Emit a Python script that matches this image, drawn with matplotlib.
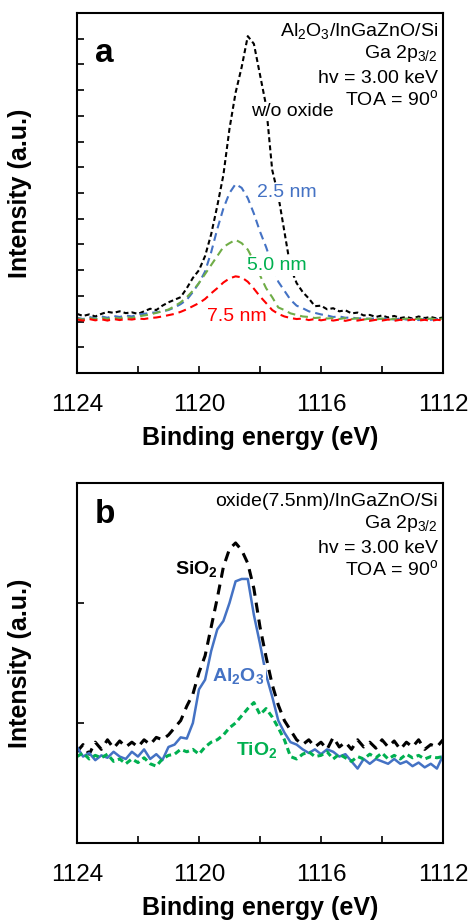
import numpy as np
import matplotlib
matplotlib.use('Agg')
import matplotlib.pyplot as plt
from matplotlib.ticker import MultipleLocator, FuncFormatter

plt.rcParams['font.family'] = ['Liberation Sans', 'DejaVu Sans']
plt.rcParams['mathtext.fontset'] = 'custom'
plt.rcParams['mathtext.rm'] = 'Liberation Sans'
plt.rcParams['mathtext.it'] = 'Liberation Sans:italic'
plt.rcParams['mathtext.bf'] = 'Liberation Sans:bold'

# binding energy grid (eV)
energy = [1124.0, 1123.8, 1123.6, 1123.4, 1123.2, 1123.0, 1122.8, 1122.6, 1122.4, 1122.2,
          1122.0, 1121.8, 1121.6, 1121.4, 1121.2, 1121.0, 1120.8, 1120.6, 1120.4, 1120.2,
          1120.0, 1119.8, 1119.6, 1119.4, 1119.2, 1119.0, 1118.8, 1118.6, 1118.4, 1118.2,
          1118.0, 1117.8, 1117.6, 1117.4, 1117.2, 1117.0, 1116.8, 1116.6, 1116.4, 1116.2,
          1116.0, 1115.8, 1115.6, 1115.4, 1115.2, 1115.0, 1114.8, 1114.6, 1114.4, 1114.2,
          1114.0, 1113.8, 1113.6, 1113.4, 1113.2, 1113.0, 1112.8, 1112.6, 1112.4, 1112.2,
          1112.0]

# panel a: Al2O3 thickness series
no_oxide = [2.30, 2.22, 2.28, 2.20, 2.30, 2.38, 2.34, 2.40, 2.33, 2.36,
            2.30, 2.40, 2.50, 2.45, 2.62, 2.75, 2.85, 2.95, 3.30, 3.70,
            4.00, 4.55, 5.40, 6.50, 7.70, 9.50, 10.9, 11.9, 13.1, 12.8,
            11.6, 10.4, 7.90, 6.90, 5.50, 4.10, 3.50, 3.15, 2.90, 2.60,
            2.62, 2.48, 2.52, 2.40, 2.44, 2.32, 2.35, 2.24, 2.26, 2.18,
            2.24, 2.16, 2.22, 2.14, 2.18, 2.12, 2.20, 2.14, 2.18, 2.12,
            2.16]
al_25 = [2.15, 2.10, 2.18, 2.12, 2.20, 2.15, 2.22, 2.18, 2.24, 2.20,
         2.28, 2.30, 2.34, 2.36, 2.40, 2.45, 2.55, 2.68, 2.85, 3.15,
         3.50, 3.95, 4.70, 5.60, 6.40, 7.00, 7.35, 7.20, 6.80, 6.20,
         5.50, 4.90, 4.20, 3.55, 3.20, 2.85, 2.62, 2.52, 2.40, 2.34,
         2.28, 2.24, 2.18, 2.20, 2.15, 2.16, 2.12, 2.14, 2.10, 2.13,
         2.10, 2.12, 2.08, 2.12, 2.08, 2.10, 2.06, 2.10, 2.07, 2.10,
         2.08]
al_50 = [2.12, 2.08, 2.14, 2.10, 2.16, 2.10, 2.15, 2.12, 2.18, 2.14,
         2.20, 2.24, 2.28, 2.34, 2.40, 2.47, 2.60, 2.75, 2.95, 3.20,
         3.50, 3.85, 4.20, 4.55, 4.90, 5.05, 5.18, 5.05, 4.80, 4.35,
         3.80, 3.30, 2.95, 2.55, 2.45, 2.32, 2.26, 2.20, 2.18, 2.14,
         2.16, 2.12, 2.14, 2.10, 2.14, 2.10, 2.13, 2.08, 2.12, 2.08,
         2.12, 2.07, 2.11, 2.08, 2.12, 2.08, 2.12, 2.08, 2.12, 2.09,
         2.12]
al_75 = [2.08, 2.04, 2.10, 2.05, 2.09, 2.04, 2.10, 2.06, 2.10, 2.08,
         2.12, 2.10, 2.14, 2.16, 2.20, 2.25, 2.30, 2.38, 2.48, 2.60,
         2.72, 2.88, 3.10, 3.30, 3.52, 3.68, 3.76, 3.72, 3.55, 3.28,
         2.98, 2.72, 2.45, 2.30, 2.20, 2.14, 2.10, 2.12, 2.06, 2.10,
         2.05, 2.09, 2.04, 2.08, 2.03, 2.08, 2.04, 2.08, 2.03, 2.07,
         2.04, 2.08, 2.03, 2.07, 2.04, 2.08, 2.04, 2.07, 2.03, 2.07,
         2.05]

# panel b: 7.5 nm of different oxides
sio2 = [0.76, 0.82, 0.74, 0.84, 0.78, 0.86, 0.79, 0.85, 0.80, 0.84,
        0.80, 0.86, 0.82, 0.88, 0.86, 0.90, 0.96, 1.02, 1.14, 1.24,
        1.42, 1.56, 1.80, 2.04, 2.30, 2.45, 2.50, 2.44, 2.33, 2.12,
        1.80, 1.55, 1.32, 1.15, 1.02, 0.94, 0.86, 0.82, 0.86, 0.80,
        0.84, 0.78, 0.88, 0.80, 0.84, 0.78, 0.86, 0.80, 0.84, 0.79,
        0.86, 0.80, 0.85, 0.78, 0.84, 0.80, 0.86, 0.78, 0.82, 0.80,
        0.86]
al2o3 = [0.80, 0.72, 0.75, 0.69, 0.73, 0.71, 0.76, 0.72, 0.70, 0.76,
         0.72, 0.78, 0.70, 0.74, 0.69, 0.80, 0.82, 0.88, 0.87, 1.00,
         1.28, 1.36, 1.60, 1.78, 1.85, 2.00, 2.18, 2.20, 2.20, 1.90,
         1.66, 1.40, 1.22, 1.02, 0.92, 0.84, 0.82, 0.78, 0.75, 0.78,
         0.74, 0.78, 0.76, 0.72, 0.74, 0.68, 0.62, 0.70, 0.66, 0.70,
         0.68, 0.66, 0.70, 0.66, 0.68, 0.64, 0.67, 0.63, 0.66, 0.62,
         0.73]
tio2 = [0.72, 0.75, 0.70, 0.73, 0.71, 0.74, 0.68, 0.70, 0.66, 0.70,
        0.67, 0.71, 0.66, 0.64, 0.70, 0.73, 0.74, 0.78, 0.76, 0.78,
        0.74, 0.80, 0.84, 0.86, 0.90, 0.96, 1.00, 1.06, 1.12, 1.17,
        1.07, 1.12, 1.05, 0.96, 0.86, 0.72, 0.70, 0.74, 0.76, 0.72,
        0.73, 0.76, 0.70, 0.74, 0.71, 0.68, 0.72, 0.70, 0.74, 0.71,
        0.75, 0.70, 0.73, 0.70, 0.74, 0.71, 0.73, 0.70, 0.72, 0.71,
        0.72]

x_ticks_labelled = [1124, 1120, 1116, 1112]

BLUE = '#4472C4'
OLIVE = '#70AD47'
GREEN = '#00B050'
RED = '#FF0000'
white_box = dict(facecolor='white', edgecolor='none', pad=1)


def styleAxes(ax, ymax):
    ax.set_xlim(1124, 1112)
    ax.set_ylim(0, ymax)
    ax.xaxis.set_major_locator(MultipleLocator(2))
    ax.xaxis.set_major_formatter(FuncFormatter(
        lambda v, p: '%d' % round(v) if round(v) in x_ticks_labelled else ''))
    ax.yaxis.set_major_locator(MultipleLocator(1))
    ax.yaxis.set_major_formatter(FuncFormatter(lambda v, p: ''))
    ax.tick_params(direction='in', length=5, width=1.2, labelsize=17.5, pad=15,
                   top=False, right=False)
    for s in ax.spines.values():
        s.set_linewidth(1.5)
    ax.set_xlabel('Binding energy (eV)', fontsize=18, fontweight='bold', labelpad=7)


def infoBlock(ax, first_line):
    lines = [first_line, 'Ga 2p$_{3/2}$', 'hv = 3.00 keV', 'TOA = 90$^{\\mathrm{o}}$']
    for txt, yy in zip(lines, [0.936, 0.876, 0.806, 0.745]):
        ax.text(0.986, yy, txt, transform=ax.transAxes, ha='right', va='baseline',
                fontsize=14)


fig = plt.figure(figsize=(4.74, 9.22), dpi=100)

# ---- panel a
axA = fig.add_axes([0.1624, 0.5954, 0.7722, 0.3905])
axA.plot(energy, no_oxide, color='black', lw=1.5, ls=(0, (2.4, 1.5)))
axA.plot(energy, al_25, color=BLUE, lw=1.5, ls=(0, (3.8, 2.4)))
axA.plot(energy, al_50, color=OLIVE, lw=1.5, ls=(0, (3.8, 2.4)))
axA.plot(energy, al_75, color=RED, lw=1.5, ls=(0, (3.8, 2.4)))
styleAxes(axA, 14)
infoBlock(axA, 'Al$_2$O$_3$/InGaZnO/Si')
axA.text(0.049, 0.864, 'a', transform=axA.transAxes, fontsize=24, fontweight='bold',
         va='baseline')
axA.text(1116.95, 10.0, 'w/o oxide', color='black', fontsize=14, ha='center',
         va='baseline', bbox=white_box, zorder=5)
axA.text(1117.11, 6.85, '2.5 nm', color=BLUE, fontsize=14, ha='center',
         va='baseline', bbox=white_box, zorder=5)
axA.text(1117.44, 4.0, '5.0 nm', color=GREEN, fontsize=14, ha='center',
         va='baseline', bbox=white_box, zorder=5)
axA.text(1118.75, 2.02, '7.5 nm', color=RED, fontsize=14, ha='center',
         va='baseline', bbox=white_box, zorder=5)

# ---- panel b
axB = fig.add_axes([0.1624, 0.0857, 0.7722, 0.3905])
axB.plot(energy, sio2, color='black', lw=2.2, ls=(0, (3.3, 2.3)))
axB.plot(energy, al2o3, color=BLUE, lw=1.8)
axB.plot(energy, tio2, color=GREEN, lw=2.2, ls=(0, (2.0, 1.3)))
styleAxes(axB, 3)
infoBlock(axB, 'oxide(7.5nm)/InGaZnO/Si')
axB.text(0.049, 0.889, 'b', transform=axB.transAxes, fontsize=24, fontweight='bold',
         va='baseline')
axB.text(1120.07, 2.24, r'$\mathbf{SiO}_\mathbf{2}$', color='black', fontsize=14,
         ha='center', va='baseline', bbox=white_box, zorder=5)
axB.text(1118.72, 1.35, r'$\mathbf{Al}_\mathbf{2}\mathbf{O}_\mathbf{3}$', color=BLUE,
         fontsize=14, ha='center', va='baseline', bbox=white_box, zorder=5)
axB.text(1118.1, 0.73, r'$\mathbf{TiO}_\mathbf{2}$', color=GREEN, fontsize=14,
         ha='center', va='baseline', bbox=white_box, zorder=5)

for yc in [0.7907, 0.2809]:
    fig.text(0.042, yc, 'Intensity (a.u.)', rotation=90, ha='center', va='center',
             fontsize=18, fontweight='bold')

fig.savefig('out.png', dpi=100)
